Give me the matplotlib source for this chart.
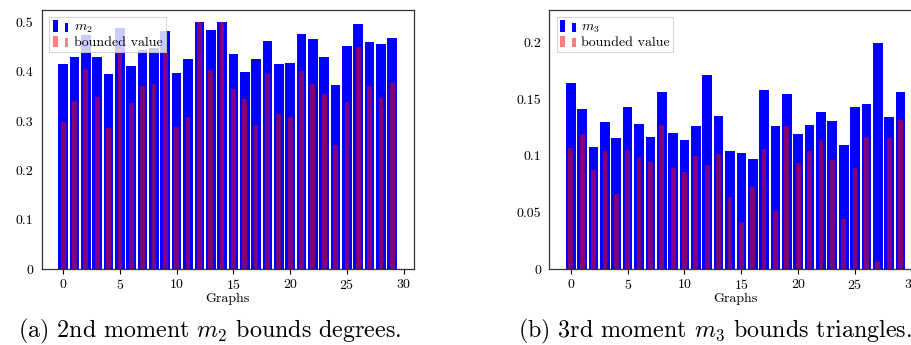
import numpy as np
import matplotlib
matplotlib.use("Agg")
import matplotlib.pyplot as plt
from matplotlib.patches import Rectangle
from matplotlib.container import BarContainer
from matplotlib.legend_handler import HandlerBase
from matplotlib.ticker import FuncFormatter

plt.rcParams['font.family'] = ['cmr10', 'DejaVu Serif']
plt.rcParams['mathtext.fontset'] = 'cm'
plt.rcParams['axes.unicode_minus'] = False
plt.rcParams['axes.formatter.use_mathtext'] = True

graphs = np.arange(30)

# (a) second moment m2 and bounded value
m2 = [0.415, 0.429, 0.474, 0.429, 0.395, 0.488, 0.411, 0.443, 0.447, 0.482,
      0.397, 0.425, 0.500, 0.484, 0.500, 0.435, 0.399, 0.425, 0.462, 0.415,
      0.417, 0.476, 0.466, 0.429, 0.373, 0.451, 0.496, 0.460, 0.456, 0.468]
m2_bound = [0.298, 0.340, 0.405, 0.348, 0.286, 0.443, 0.336, 0.371, 0.375, 0.440,
            0.288, 0.308, 0.500, 0.403, 0.500, 0.365, 0.344, 0.292, 0.397, 0.314,
            0.308, 0.401, 0.375, 0.354, 0.251, 0.338, 0.449, 0.371, 0.346, 0.377]

# (b) third moment m3 and bounded value
m3 = [0.164, 0.141, 0.108, 0.130, 0.116, 0.143, 0.128, 0.117, 0.156, 0.120,
      0.114, 0.126, 0.171, 0.135, 0.104, 0.103, 0.097, 0.158, 0.126, 0.155,
      0.119, 0.127, 0.139, 0.131, 0.110, 0.143, 0.146, 0.200, 0.134, 0.156]
m3_bound = [0.107, 0.119, 0.088, 0.104, 0.066, 0.105, 0.099, 0.095, 0.127, 0.089,
            0.086, 0.100, 0.092, 0.102, 0.064, 0.042, 0.073, 0.106, 0.051, 0.126,
            0.094, 0.104, 0.114, 0.096, 0.044, 0.089, 0.117, 0.007, 0.116, 0.132]

captions = [r"(a) 2nd moment $m_2$ bounds degrees.",
            r"(b) 3rd moment $m_3$ bounds triangles."]


class TwoBars(HandlerBase):
    # pgfplots style "ybar legend": two little bars
    def create_artists(self, legend, orig_handle, xdescent, ydescent,
                       width, height, fontsize, trans):
        fc = orig_handle.patches[0].get_facecolor()
        x0, y0 = -xdescent, -ydescent - 0.1 * height
        r1 = Rectangle((x0, y0), width * 0.3, height * 1.15, facecolor=fc,
                       edgecolor='none', transform=trans)
        r2 = Rectangle((x0 + width * 0.72, y0), width * 0.22, height * 0.9,
                       facecolor=fc, edgecolor='none', transform=trans)
        return [r1, r2]


fig = plt.figure(figsize=(9.12, 3.45), dpi=100)
ax1 = fig.add_axes([0.0457, 0.2194, 0.408, 0.7525])
ax2 = fig.add_axes([0.6023, 0.2194, 0.4087, 0.7525])

fmt = FuncFormatter(lambda v, p: '%g' % round(v, 4))

for ax, vals, bnd, lab, top, step in [(ax1, m2, m2_bound, r'$m_2$', 0.525, 0.1),
                                      (ax2, m3, m3_bound, r'$m_3$', 0.229, 0.05)]:
    b1 = ax.bar(graphs, vals, width=0.85, color='blue', label=lab)
    b2 = ax.bar(graphs, bnd, width=0.42, color='red', alpha=0.5, label='bounded value')
    ax.set_ylim(0, top)
    ax.set_xlim(-1.89, 30.89)
    ax.set_xticks([0, 5, 10, 15, 20, 25, 30])
    ax.set_yticks(np.arange(0, top, step))
    ax.yaxis.set_major_formatter(fmt)
    ax.tick_params(axis='x', direction='out', length=3.5, width=0.8, pad=2.5, labelsize=10)
    ax.tick_params(axis='y', length=0, pad=6, labelsize=10)
    for s in ax.spines.values():
        s.set_color('0.2')
        s.set_linewidth(0.9)
    ax.set_xlabel('Graphs', fontsize=10, labelpad=1)
    leg = ax.legend([b1, b2], [lab, 'bounded value'], loc='upper left',
                    handler_map={BarContainer: TwoBars()}, fontsize=10,
                    handlelength=1.2, handletextpad=0.3, borderpad=0.25,
                    labelspacing=0.1, borderaxespad=0.55, framealpha=0.8,
                    fancybox=False, edgecolor='0.8')
    leg.get_frame().set_linewidth(0.8)

fig.text(18 / 912, 1 - 331 / 345, captions[0], fontsize=17.3, ha='left', va='center')
fig.text(518 / 912, 1 - 331 / 345, captions[1], fontsize=17.3, ha='left', va='center')

fig.savefig('out.png', dpi=100)
